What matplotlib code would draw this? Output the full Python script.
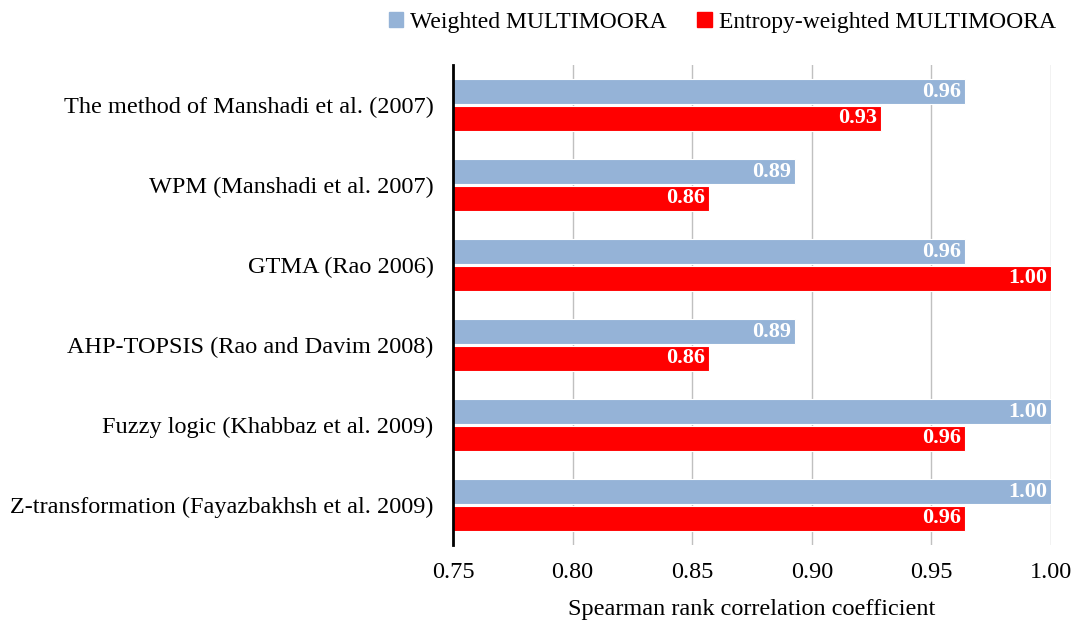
import numpy as np
import matplotlib.pyplot as plt
from matplotlib.patches import Patch

plt.rcParams['font.family'] = ['Liberation Serif', 'DejaVu Serif']

methods = [
    'The method of Manshadi et al. (2007)',
    'WPM (Manshadi et al. 2007)',
    'GTMA (Rao 2006)',
    'AHP-TOPSIS (Rao and Davim 2008)',
    'Fuzzy logic (Khabbaz et al. 2009)',
    'Z-transformation (Fayazbakhsh et al. 2009)',
]
weighted = [0.964, 0.893, 0.964, 0.893, 1.000, 1.000]
entropy = [0.929, 0.857, 1.000, 0.857, 0.964, 0.964]

blue = '#95b3d7'
red = '#ff0000'

fig = plt.figure(figsize=(10.77, 6.28), dpi=100)
ax = fig.add_axes([0.4206, 0.1322, 0.5553, 0.7643])

y = np.arange(len(methods))
h = 0.31
gap = 0.02
ax.barh(y - h / 2 - gap / 2, weighted, height=h, color=blue, edgecolor='white', linewidth=0.8, zorder=3)
ax.barh(y + h / 2 + gap / 2, entropy, height=h, color=red, edgecolor='white', linewidth=0.8, zorder=3)

for yi, w, e in zip(y, weighted, entropy):
    ax.text(w - 0.0015, yi - h / 2 - gap / 2, f'{w:.2f}', ha='right', va='center',
            color='white', fontsize=16, fontweight='bold', zorder=4)
    ax.text(e - 0.0015, yi + h / 2 + gap / 2, f'{e:.2f}', ha='right', va='center',
            color='white', fontsize=16, fontweight='bold', zorder=4)

ax.set_xlim(0.75, 1.00)
ax.set_ylim(len(methods) - 0.5, -0.5)
ax.set_xticks([0.75, 0.80, 0.85, 0.90, 0.95, 1.00])
ax.set_xticklabels(['0.75', '0.80', '0.85', '0.90', '0.95', '1.00'])
ax.set_yticks(y)
ax.set_yticklabels(methods)
ax.tick_params(axis='both', length=0, labelsize=17.5)
ax.tick_params(axis='x', pad=12)
ax.tick_params(axis='y', pad=14)
ax.grid(axis='x', color='#c0c0c0', linewidth=1, zorder=0)
for s in ['top', 'right', 'bottom']:
    ax.spines[s].set_visible(False)
ax.spines['left'].set_linewidth(2)
ax.spines['left'].set_color('black')
ax.spines['left'].set_zorder(5)

ax.set_xlabel('Spearman rank correlation coefficient', fontsize=17.5, labelpad=12)

handles = [Patch(color=blue, label='Weighted MULTIMOORA'),
           Patch(color=red, label='Entropy-weighted MULTIMOORA')]
fig.legend(handles=handles, loc='upper right', bbox_to_anchor=(1.0, 1.015), ncol=2,
           frameon=False, fontsize=17, handlelength=0.6, handleheight=0.6,
           handletextpad=0.3, columnspacing=1.3)

fig.savefig('out.png', dpi=100)
